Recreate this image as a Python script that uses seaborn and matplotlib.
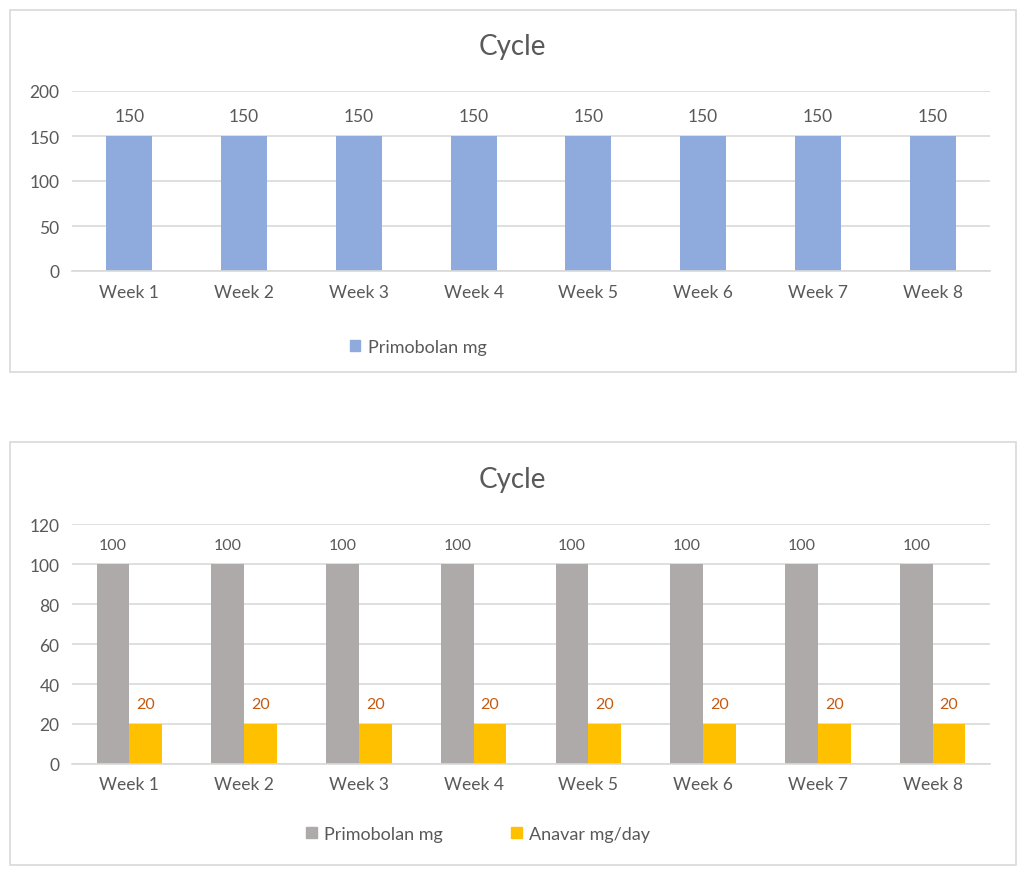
import matplotlib
matplotlib.use("Agg")
import matplotlib.pyplot as plt
from matplotlib.patches import Rectangle, Patch
import seaborn as sns
import pandas as pd

weeks = ["Week 1", "Week 2", "Week 3", "Week 4", "Week 5", "Week 6", "Week 7", "Week 8"]
primo_top = [150, 150, 150, 150, 150, 150, 150, 150]
primo_bottom = [100, 100, 100, 100, 100, 100, 100, 100]
anavar = [20, 20, 20, 20, 20, 20, 20, 20]
top_ticks = [0, 50, 100, 150, 200]
bottom_ticks = [0, 20, 40, 60, 80, 100, 120]

BLUE = "#8faadc"
GREY = "#aeaaaa"
YELLOW = "#ffc000"
ORANGE = "#c55a11"
TEXT = "#595959"
GRID = "#d9d9d9"

sns.set_theme(style="white")
plt.rcParams["font.family"] = ["Lato", "DejaVu Sans"]

W, H = 1024, 879
fig = plt.figure(figsize=(W / 100, H / 100), dpi=100)


def px_axes(left, top, right, bottom):
    return fig.add_axes([left / W, (H - bottom) / H, (right - left) / W, (bottom - top) / H])


def style_ax(ax, ticks):
    ax.set_ylim(ticks[0], ticks[-1])
    ax.set_yticks(ticks)
    ax.set_xlim(-0.5, len(weeks) - 0.5)
    for s in ["top", "right", "left"]:
        ax.spines[s].set_visible(False)
    ax.spines["bottom"].set_color(GRID)
    ax.spines["bottom"].set_linewidth(1.2)
    ax.yaxis.grid(True, color=GRID, linewidth=1.2)
    ax.set_axisbelow(True)
    ax.tick_params(axis="both", length=0, labelsize=12.5, colors=TEXT, pad=9)
    ax.set_xlabel("")
    ax.set_ylabel("")


# panel borders
for (l, t, r, b) in [(10, 11, 1016, 373), (10, 443, 1016, 866)]:
    fig.patches.append(Rectangle((l / W, (H - b) / H), (r - l) / W, (b - t) / H,
                                 transform=fig.transFigure, fill=False,
                                 edgecolor=GRID, linewidth=1.2))

# ---- top chart
ax1 = px_axes(72, 92, 990, 272)
df1 = pd.DataFrame({"week": weeks, "value": primo_top})
sns.barplot(data=df1, x="week", y="value", color=BLUE, width=0.4, saturation=1,
            linewidth=0, ax=ax1)
style_ax(ax1, top_ticks)
for c in ax1.containers:
    ax1.bar_label(c, labels=[str(v) for v in primo_top], padding=9, fontsize=12.5, color=TEXT)
fig.text(512 / W, (H - 47) / H, "Cycle", ha="center", va="center", fontsize=20, color=TEXT)
fig.legend(handles=[Patch(color=BLUE, label="Primobolan mg")], loc="center",
           bbox_to_anchor=(418 / W, (H - 348) / H), frameon=False, fontsize=13,
           labelcolor=TEXT, handlelength=0.6, handleheight=0.6, handletextpad=0.4)

# ---- bottom chart
ax2 = px_axes(72, 525, 990, 765)
df2 = pd.DataFrame({
    "week": weeks * 2,
    "value": primo_bottom + anavar,
    "series": ["Primobolan mg"] * len(weeks) + ["Anavar mg/day"] * len(weeks),
})
sns.barplot(data=df2, x="week", y="value", hue="series",
            palette={"Primobolan mg": GREY, "Anavar mg/day": YELLOW},
            width=0.57, gap=0, saturation=1, linewidth=0, ax=ax2, legend=False)
style_ax(ax2, bottom_ticks)
c_primo, c_anavar = ax2.containers
ax2.bar_label(c_primo, labels=[str(v) for v in primo_bottom], padding=9, fontsize=11.5, color=TEXT)
ax2.bar_label(c_anavar, labels=[str(v) for v in anavar], padding=9, fontsize=11.5, color=ORANGE)
fig.text(512 / W, (H - 480) / H, "Cycle", ha="center", va="center", fontsize=20, color=TEXT)
fig.legend(handles=[Patch(color=GREY, label="Primobolan mg"),
                    Patch(color=YELLOW, label="Anavar mg/day")],
           loc="center", ncol=2, bbox_to_anchor=(478 / W, (H - 835) / H), frameon=False,
           fontsize=13, labelcolor=TEXT, handlelength=0.6, handleheight=0.6,
           handletextpad=0.4, columnspacing=3.8)

fig.savefig("out.png", dpi=100, facecolor="white")
